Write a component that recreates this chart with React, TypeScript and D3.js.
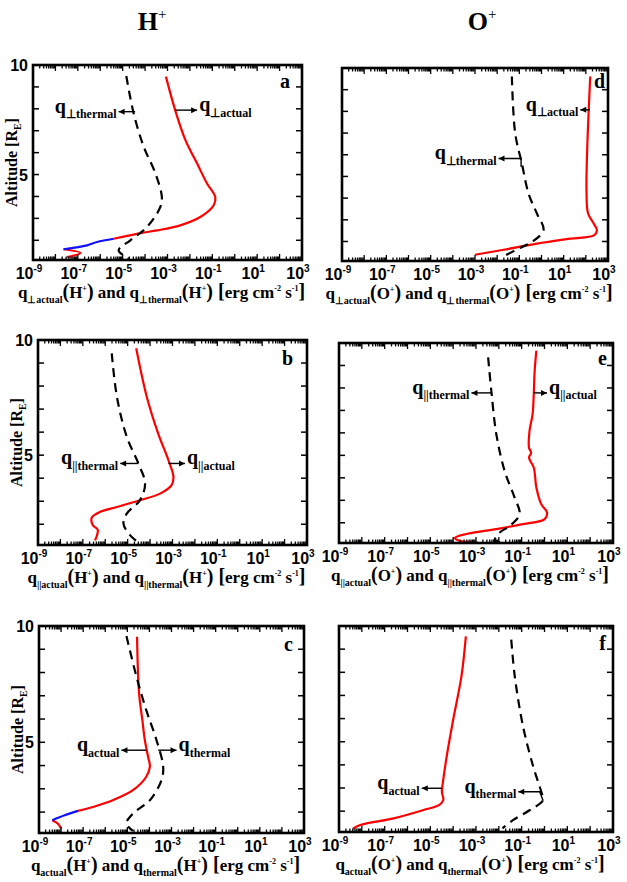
import React from 'react';
import * as d3 from 'd3';

// [q (erg cm^-2 s^-1), altitude (R_E)]
type Pt = [number, number];

const SERIF = "'Liberation Serif', 'Times New Roman', serif";
const SANS = "'Liberation Sans', Arial, sans-serif";

const xDomain: [number, number] = [1e-9, 1e3];
const yDomain: [number, number] = [1.1, 10];
const yLabelTicks = [5, 10];
const labelExps = [-9, -7, -5, -3, -1, 1, 3];

// panel a : H+ perpendicular
const aActual: Pt[] = [[8.5e-4, 9.47], [2.2e-3, 7.94], [6.3e-3, 6.57], [2.1e-2, 5.5], [5.8e-2, 4.59], [0.135, 3.98], [0.115, 3.6], [2.9e-2, 3.06], [3.7e-3, 2.68], [3.4e-4, 2.45], [6.2e-5, 2.33], [4.0e-6, 2.07]];
const aActualBlue: Pt[] = [[4.0e-6, 2.07], [7.2e-7, 1.92], [2.6e-7, 1.77], [2.3e-8, 1.59]];
const aActualLow: Pt[] = [[2.3e-8, 1.59], [1.3e-7, 1.42], [3.3e-8, 1.23]];
const aThermal: Pt[] = [[1.45e-5, 9.5], [3.1e-5, 7.79], [8.7e-5, 6.27], [2.9e-4, 5.05], [5.6e-4, 3.98], [4.8e-4, 3.52], [1.2e-4, 2.6], [2.2e-5, 2.0], [6.6e-6, 1.54], [1.9e-5, 1.16]];

// panel b : H+ parallel
const bActual: Pt[] = [[2.4e-5, 9.64], [7.1e-5, 7.54], [2.3e-4, 5.94], [6.6e-4, 4.78], [1.1e-3, 4.06], [9.1e-4, 3.7], [2.8e-4, 3.33], [3.5e-5, 3.04], [3.3e-6, 2.75], [5.9e-7, 2.54], [2.5e-7, 2.29], [2.8e-7, 1.96], [4.6e-7, 1.77], [4.3e-7, 1.52], [3.5e-7, 1.3]];
const bThermal: Pt[] = [[1.95e-6, 9.42], [3.3e-6, 7.54], [9.1e-6, 5.8], [3.0e-5, 4.64], [6.0e-5, 3.77], [3.5e-5, 3.04], [9.1e-6, 2.46], [6.5e-6, 2.03], [1.3e-5, 1.52], [3.5e-5, 1.16]];

// panel c : H+ total
const cActual: Pt[] = [[2.75e-5, 9.54], [3.4e-5, 7.1], [4.8e-5, 5.95], [6.2e-5, 5.09], [8.7e-5, 4.38], [1.05e-4, 3.95], [7.2e-5, 3.52], [1.8e-5, 2.94], [2.2e-6, 2.51], [2.8e-7, 2.22], [5.9e-8, 2.05]];
const cActualBlue: Pt[] = [[5.9e-8, 2.05], [1.45e-8, 1.86], [4.0e-9, 1.65]];
const cActualLow: Pt[] = [[4.0e-9, 1.65], [7.2e-9, 1.5], [1.0e-8, 1.29]];
const cThermal: Pt[] = [[9.1e-6, 9.57], [2.6e-5, 7.82], [7.2e-5, 6.38], [2.1e-4, 5.09], [4.2e-4, 3.95], [3.5e-4, 3.37], [1.05e-4, 2.51], [1.8e-5, 1.94], [9.1e-6, 1.51], [1.8e-5, 1.19]];

// panel d : O+ perpendicular
const dActual: Pt[] = [[158, 9.61], [135, 8.07], [115, 6.22], [107, 4.37], [126, 3.29], [229, 2.82], [316, 2.52], [229, 2.28], [20, 2.13], [0.62, 1.9], [0.0195, 1.62], [1.0e-3, 1.39]];
const dThermal: Pt[] = [[0.046, 9.61], [0.065, 6.99], [0.13, 5.6], [0.26, 4.21], [0.62, 3.29], [1.23, 2.52], [0.37, 1.98], [0.091, 1.67], [0.0195, 1.31]];

// panel e : O+ parallel
const eActual: Pt[] = [[0.44, 9.66], [0.37, 8.74], [0.34, 7.78], [0.3, 6.82], [0.22, 6.08], [0.21, 5.34], [0.26, 5.12], [0.21, 4.9], [0.34, 4.45], [0.44, 3.57], [0.72, 2.83], [1.29, 2.46], [1.02, 2.16], [0.115, 1.94], [7.8e-3, 1.72], [3.8e-4, 1.5], [1.2e-4, 1.33], [1.9e-4, 1.2], [1.2e-3, 1.12]];
const eThermal: Pt[] = [[3.4e-3, 9.36], [4.7e-3, 7.86], [7.8e-3, 5.93], [0.018, 4.3], [0.049, 3.12], [0.081, 2.38], [0.03, 1.86], [0.011, 1.57], [6.6e-3, 1.2], [0.015, 1.12]];

// panel f : O+ total
const fActual: Pt[] = [[3.6e-4, 9.55], [2.3e-4, 7.82], [1.0e-4, 5.95], [5.2e-5, 4.36], [3.5e-5, 3.2], [3.2e-5, 2.84], [3.7e-5, 2.48], [2.5e-5, 2.27], [5.0e-6, 2.05], [2.5e-7, 1.69], [8.5e-9, 1.4], [4.1e-9, 1.24]];
const fThermal: Pt[] = [[0.035, 9.41], [0.05, 7.82], [0.115, 5.66], [0.32, 3.93], [0.72, 2.84], [0.87, 2.48], [0.23, 2.05], [0.043, 1.62], [0.0145, 1.26]];

// annotation arrows: path points (first on the curve, last = arrow tip), label subscript
type Note = { pts: Pt[]; sub: string };
const aNotes: Note[] = [
  { pts: [[3.6e-5, 7.87], [6.6e-6, 7.87]], sub: '\u22a5thermal' },
  { pts: [[2.2e-3, 7.94], [2.1e-2, 7.94]], sub: '\u22a5actual' },
];
const bNotes: Note[] = [
  { pts: [[3.0e-5, 4.64], [4.6e-6, 4.64]], sub: '||thermal' },
  { pts: [[6.6e-4, 4.64], [3.6e-3, 4.64]], sub: '||actual' },
];
const cNotes: Note[] = [
  { pts: [[7.2e-5, 4.66], [5.4e-6, 4.66]], sub: 'actual' },
  { pts: [[2.5e-4, 4.66], [1.7e-3, 4.66]], sub: 'thermal' },
];
const dNotes: Note[] = [
  { pts: [[151, 8.07], [56, 8.07]], sub: '\u22a5actual' },
  { pts: [[0.12, 5.45], [0.12, 5.83], [0.0115, 5.83]], sub: '\u22a5thermal' },
];
const eNotes: Note[] = [
  { pts: [[4.7e-3, 7.78], [6.3e-4, 7.78]], sub: '||thermal' },
  { pts: [[0.34, 7.78], [1.29, 7.78]], sub: '||actual' },
];
const fNotes: Note[] = [
  { pts: [[3.2e-5, 2.99], [4.2e-6, 2.99]], sub: 'actual' },
  { pts: [[0.87, 2.45], [0.62, 2.84], [0.071, 2.84]], sub: 'thermal' },
];

type Seg = { t: string; k?: 'sub' | 'sup'; fs?: number };

function rich(segs: Seg[], base: number, subFs: number, supFs: number) {
  let off = 0;
  return segs.map((s, i) => {
    const target = s.k === 'sub' ? base * 0.28 : s.k === 'sup' ? -base * 0.42 : 0;
    const dy = target - off;
    off = target;
    const fs = s.fs ?? (s.k === 'sub' ? subFs : s.k === 'sup' ? supFs : base);
    return (
      <tspan key={i} dy={dy} fontSize={fs}>
        {s.t}
      </tspan>
    );
  });
}

type PanelProps = {
  letter: string;
  ion: string;
  sym: string;
  frame: { x0: number; x1: number; y0: number; y1: number };
  letterPos: [number, number];
  yLabels: boolean;
  red: Pt[][];
  blue: Pt[][];
  thermal: Pt[];
  notes: Note[];
};

function Panel(p: PanelProps) {
  const { x0, x1, y0, y1 } = p.frame;
  const x = d3.scaleLog().domain(xDomain).range([x0, x1]);
  const y = d3.scaleLinear().domain(yDomain).range([y1, y0]);
  const line = d3
    .line<Pt>()
    .x((d) => x(d[0]))
    .y((d) => y(d[1]))
    .curve(d3.curveCatmullRom.alpha(0.5));
  const xt = x.ticks(20);
  const yt = y.ticks(10).filter((v) => v > yDomain[0] && v < yDomain[1]);
  const isMajor = (v: number) => Math.abs(Math.log10(v) - Math.round(Math.log10(v))) < 1e-6;

  const titleSegs: Seg[] = [
    { t: 'q' },
    { t: p.sym + 'actual', k: 'sub' },
    { t: '(', fs: 20 },
    { t: p.ion },
    { t: '+', k: 'sup' },
    { t: ')', fs: 20 },
    { t: ' and q' },
    { t: p.sym + 'thermal', k: 'sub' },
    { t: '(', fs: 20 },
    { t: p.ion },
    { t: '+', k: 'sup' },
    { t: ')', fs: 20 },
    { t: ' [', fs: 20 },
    { t: 'erg cm' },
    { t: '-2', k: 'sup' },
    { t: ' s' },
    { t: '-1', k: 'sup' },
    { t: ']', fs: 20 },
  ];

  return (
    <g>
      {p.red.map((d, i) => (
        <path key={'r' + i} d={line(d) ?? ''} fill="none" stroke="#ff0000" strokeWidth={2.2} strokeLinejoin="round" />
      ))}
      {p.blue.map((d, i) => (
        <path key={'b' + i} d={line(d) ?? ''} fill="none" stroke="#1010ff" strokeWidth={2.2} strokeLinejoin="round" />
      ))}
      <path d={line(p.thermal) ?? ''} fill="none" stroke="#000" strokeWidth={2.2} strokeDasharray="9,6" />

      {p.notes.map((n, i) => {
        const px = n.pts.map((d) => [x(d[0]), y(d[1])] as [number, number]);
        const tip = px[px.length - 1];
        const prev = px[px.length - 2];
        const dir = tip[0] < prev[0] ? -1 : 1;
        const ah = 6;
        const head = `M${tip[0]},${tip[1]} L${tip[0] - dir * ah},${tip[1] - 3} L${tip[0] - dir * ah},${tip[1] + 3} Z`;
        const tx = tip[0] + dir * 2;
        return (
          <g key={'n' + i}>
            <path d={d3.line()(px) ?? ''} fill="none" stroke="#000" strokeWidth={1.4} />
            <path d={head} fill="#000" />
            <text
              x={tx}
              y={tip[1] + 1}
              textAnchor={dir < 0 ? 'end' : 'start'}
              fontFamily={SERIF}
              fontWeight="bold"
              style={{ whiteSpace: 'pre' }}
            >
              {rich([{ t: 'q' }, { t: n.sub, k: 'sub' }], 20, 12, 10)}
            </text>
          </g>
        );
      })}

      {xt.map((v, i) => {
        const len = isMajor(v) ? 6 : 3.5;
        const xx = x(v);
        return (
          <g key={'xt' + i}>
            <line x1={xx} x2={xx} y1={y1} y2={y1 - len} stroke="#000" strokeWidth={1.3} />
            <line x1={xx} x2={xx} y1={y0} y2={y0 + len} stroke="#000" strokeWidth={1.3} />
          </g>
        );
      })}
      {yt.map((v, i) => (
        <g key={'yt' + i}>
          <line x1={x0} x2={x0 + 6} y1={y(v)} y2={y(v)} stroke="#000" strokeWidth={1.5} />
          <line x1={x1} x2={x1 - 6} y1={y(v)} y2={y(v)} stroke="#000" strokeWidth={1.5} />
        </g>
      ))}
      <rect x={x0} y={y0} width={x1 - x0} height={y1 - y0} fill="none" stroke="#000" strokeWidth={2.6} />

      {labelExps.map((e) => (
        <text key={'xl' + e} x={x(Math.pow(10, e)) - 4} y={y1 + 19} textAnchor="middle" fontFamily={SANS} fontWeight="bold" fontSize={16}>
          10
          <tspan dy={-7} fontSize={10}>
            {e}
          </tspan>
        </text>
      ))}
      {p.yLabels &&
        yLabelTicks.map((v) => (
          <text key={'yl' + v} x={x0 - 5} y={y(v) + 6} textAnchor="end" fontFamily={SANS} fontWeight="bold" fontSize={16}>
            {v}
          </text>
        ))}
      {p.yLabels && (
        <text
          transform={`translate(${x0 - 16},${(y0 + y1) / 2}) rotate(-90)`}
          textAnchor="middle"
          fontFamily={SERIF}
          fontWeight="bold"
          style={{ whiteSpace: 'pre' }}
        >
          {rich([{ t: 'Altitude [R' }, { t: 'E', k: 'sub' }, { t: ']' }], 16, 10, 10)}
        </text>
      )}

      <text
        x={(x0 + x1) / 2 - 6}
        y={y1 + 38}
        textAnchor="middle"
        fontFamily={SERIF}
        fontWeight="bold"
        style={{ whiteSpace: 'pre' }}
      >
        {rich(titleSegs, 17, 10, 8)}
      </text>

      <text x={p.letterPos[0]} y={p.letterPos[1]} textAnchor="end" fontFamily={SERIF} fontWeight="bold" fontSize={20}>
        {p.letter}
      </text>
    </g>
  );
}

export default function App() {
  return (
    <svg width={627} height={882} style={{ position: 'absolute', left: 0, top: 0, background: '#fff' }}>
      <rect width={627} height={882} fill="#fff" />
      <text x={152} y={30} textAnchor="middle" fontFamily={SERIF} fontWeight="bold" fontSize={26}>
        H<tspan dy={-11} fontSize={15} fontWeight="normal">+</tspan>
      </text>
      <text x={482} y={30} textAnchor="middle" fontFamily={SERIF} fontWeight="bold" fontSize={26}>
        O<tspan dy={-11} fontSize={15} fontWeight="normal">+</tspan>
      </text>

      <Panel letter="a" ion="H" sym={'\u22a5'} frame={{ x0: 33, x1: 302, y0: 65, y1: 260 }} letterPos={[290, 88]} yLabels
        red={[aActual, aActualLow]} blue={[aActualBlue]} thermal={aThermal} notes={aNotes} />
      <Panel letter="b" ion="H" sym="||" frame={{ x0: 38, x1: 307, y0: 340, y1: 545 }} letterPos={[293, 365]} yLabels
        red={[bActual]} blue={[]} thermal={bThermal} notes={bNotes} />
      <Panel letter="c" ion="H" sym="" frame={{ x0: 39, x1: 304, y0: 626, y1: 833 }} letterPos={[293, 651]} yLabels
        red={[cActual, cActualLow]} blue={[cActualBlue]} thermal={cThermal} notes={cNotes} />
      <Panel letter="d" ion="O" sym={'\u22a5'} frame={{ x0: 342, x1: 608, y0: 68, y1: 261 }} letterPos={[605, 88]} yLabels={false}
        red={[dActual]} blue={[]} thermal={dThermal} notes={dNotes} />
      <Panel letter="e" ion="O" sym="||" frame={{ x0: 339, x1: 613, y0: 343, y1: 543 }} letterPos={[607, 365]} yLabels={false}
        red={[eActual]} blue={[]} thermal={eThermal} notes={eNotes} />
      <Panel letter="f" ion="O" sym="" frame={{ x0: 339, x1: 613, y0: 626, y1: 832 }} letterPos={[606, 650]} yLabels={false}
        red={[fActual]} blue={[]} thermal={fThermal} notes={fNotes} />
    </svg>
  );
}
